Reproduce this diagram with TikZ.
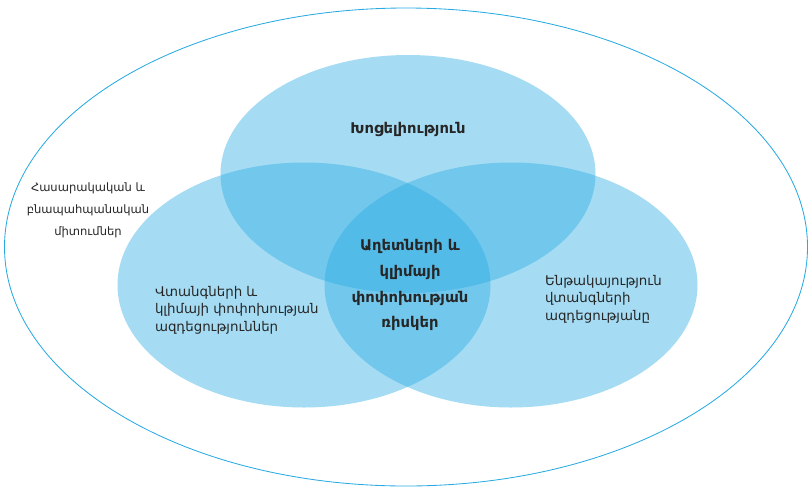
\documentclass[tikz,border=0pt]{standalone}
\usepackage{fontspec}
\setmainfont{DejaVu Sans}
\usetikzlibrary{shapes.geometric}
\definecolor{riskblue}{RGB}{41,171,226}
\begin{document}
\begin{tikzpicture}[
            x=0.025cm, y=-0.025cm,
            every node/.style = {inner sep=0pt, outer sep=0pt, text=black!85},
            bubble/.style = {shape=ellipse, fill=riskblue, fill opacity=0.42, draw=none},
            label/.style = {align=left, font=\fontsize{9.5}{12.4}\selectfont},
            bold label/.style = {align=center, font=\fontsize{10.5}{18.4}\selectfont\bfseries}
          ]
          \useasboundingbox (0,0) rectangle (810,489);
          % outer frame
          \node[shape=ellipse, draw=riskblue, line width=0.6pt, minimum width=803*0.025cm, minimum height=478*0.025cm] (outer) at (406,247) {};
          % three circles
          \node[bubble, minimum width=375*0.025cm, minimum height=238*0.025cm] (vuln) at (408,174) {};
          \node[bubble, minimum width=373*0.025cm, minimum height=245*0.025cm] (hazard) at (304,285) {};
          \node[bubble, minimum width=373*0.025cm, minimum height=245*0.025cm] (exposure) at (511,285) {};
          % texts
          \node[bold label] (vulntext) at (408,129) {Խոցելիություն};
          \node[bold label] (risktext) at (410,285) {Աղետների և\\կլիմայի\\փոփոխության\\ռիսկեր};
          \node[label, align=center, font=\fontsize{8.2}{15.6}\selectfont] (trendtext) at (88,210) {Հասարակական և\\բնապահպանական\\միտումներ};
          \node[label, anchor=west] (hazardtext) at (155,310) {Վտանգների և\\կլիմայի փոփոխության\\ազդեցություններ};
          \node[label, anchor=west] (exposuretext) at (545,299) {Ենթակայություն\\վտանգների\\ազդեցությանը};
        \end{tikzpicture}
\end{document}
